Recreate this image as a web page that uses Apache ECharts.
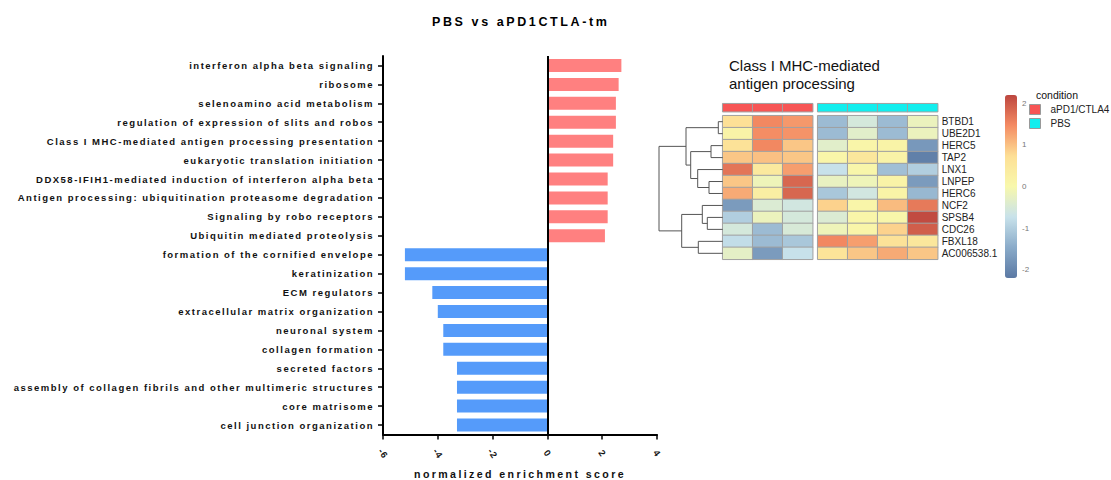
<!DOCTYPE html>
<html><head><meta charset="utf-8">
<script src="https://cdn.jsdelivr.net/npm/echarts@6/dist/echarts.min.js"></script>
<style>
html,body{margin:0;padding:0;background:#fff}
#chart{width:1111px;height:480px}
#chart text[style*="9.5px"]{letter-spacing:1.5px}
#chart text[style*="12.5px"]{letter-spacing:2.6px}
#chart text[style*="10.6px"]{letter-spacing:2.4px}
#chart text[style*="9.2px"]{letter-spacing:0.8px}
</style></head>
<body><div id="chart"></div>
<script>
// ---------- bar chart data ----------
const pathways = [
  'interferon alpha beta signaling',
  'ribosome',
  'selenoamino acid metabolism',
  'regulation of expression of slits and robos',
  'Class I MHC-mediated antigen processing presentation',
  'eukaryotic translation initiation',
  'DDX58-IFIH1-mediated induction of interferon alpha beta',
  'Antigen processing: ubiquitination proteasome degradation',
  'Signaling by robo receptors',
  'Ubiquitin mediated proteolysis',
  'formation of the cornified envelope',
  'keratinization',
  'ECM regulators',
  'extracellular matrix organization',
  'neuronal system',
  'collagen formation',
  'secreted factors',
  'assembly of collagen fibrils and other multimeric structures',
  'core matrisome',
  'cell junction organization'
];
const nes = [2.7, 2.6, 2.5, 2.5, 2.4, 2.4, 2.2, 2.2, 2.2, 2.1,
             -5.2, -5.2, -4.2, -4.0, -3.8, -3.8, -3.3, -3.3, -3.3, -3.3];

// ---------- heatmap data ----------
const genes = ['BTBD1','UBE2D1','HERC5','TAP2','LNX1','LNPEP','HERC6','NCF2','SPSB4','CDC26','FBXL18','AC006538.1'];
const treatedSamples = ['aPD1/CTLA4_1','aPD1/CTLA4_2','aPD1/CTLA4_3'];
const pbsSamples = ['PBS_1','PBS_2','PBS_3','PBS_4'];
const treatedValues = [
  [0.7, 1.5, 1.35],
  [0.15, 1.45, 1.4],
  [0.65, 1.5, 0.95],
  [0.95, 1.0, 0.95],
  [1.7, 0.45, 1.3],
  [0.95, -0.15, 1.85],
  [1.2, 0.3, 1.85],
  [-1.7, -0.45, -0.6],
  [-1.0, -0.2, -0.55],
  [-0.55, -1.25, -0.5],
  [-0.8, -1.25, -1.1],
  [-0.3, -1.7, -0.75]
];
const pbsValues = [
  [-1.25, -0.55, -1.25, -0.2],
  [-1.25, -0.35, -1.25, -0.2],
  [-0.35, 0.1, 0.15, -1.75],
  [0.1, 0.5, 0.15, -2.1],
  [-0.75, 0.05, -1.2, -1.0],
  [-0.25, -0.15, 0.15, -1.7],
  [-1.1, -0.6, 0.15, -1.3],
  [0.85, 0.1, 1.05, 1.65],
  [-0.45, 0.1, 0.05, 2.15],
  [-0.15, 0.1, 0.85, 1.95],
  [1.5, 1.3, 0.65, 0.5],
  [0.6, 0.95, 1.2, 0.95]
];
// row dendrogram: [left, right, height]; merges referenced as 'm<index>'
const dendroMerges = [
  ['BTBD1','UBE2D1',4.4],
  ['HERC5','TAP2',11.7],
  ['LNPEP','HERC6',13.7],
  ['LNX1','m2',25.0],
  ['m1','m3',32.0],
  ['m0','m4',36.7],
  ['SPSB4','CDC26',15.4],
  ['NCF2','m6',20.4],
  ['FBXL18','AC006538.1',24.4],
  ['m7','m8',41.0],
  ['m5','m9',63.7]
];
const colorbarTicks = [-2, -1, 0, 1, 2];
const conditions = ['aPD1/CTLA4', 'PBS'];

// ---------- styling ----------
const FONT = 'Liberation Sans';
const PINK = '#ff8080', BLUE = '#559bfa';
const COND_COLORS = ['#f75555', '#12eeee'];
const PALETTE = ['#5b79a4','#8aabc9','#c8e2eb','#f8f8ac','#fddf95','#f48b63','#bd463f'];

// build dendrogram segments
const nodes = {};
genes.forEach((g, i) => nodes[g] = {y: i, h: 0});
const dendroLines = [];
dendroMerges.forEach((m, k) => {
  const a = nodes[m[0]], b = nodes[m[1]], h = m[2];
  dendroLines.push({coords: [[a.h, a.y], [h, a.y], [h, b.y], [b.h, b.y]]});
  nodes['m' + k] = {y: (a.y + b.y) / 2, h: h};
});
const maxH = dendroMerges[dendroMerges.length - 1][2];

const hmA = [], hmB = [];
genes.forEach((g, i) => {
  treatedValues[i].forEach((v, j) => hmA.push([j, i, v]));
  pbsValues[i].forEach((v, j) => hmB.push([j, i, v]));
});

const hidden = {show: false};
const hiddenCat = (data, extra) => Object.assign({type: 'category', data: data, axisLine: hidden, axisTick: hidden, axisLabel: hidden, splitLine: hidden}, extra || {});
const hiddenVal = (extra) => Object.assign({type: 'value', axisLine: hidden, axisTick: hidden, axisLabel: hidden, splitLine: hidden}, extra || {});
const G = (o) => Object.assign({outerBoundsMode: 'none', containLabel: false}, o);

const HM_TOP = 115.7, HM_H = 143.6;
const option = {
  backgroundColor: '#fff',
  animation: false,
  title: [
    {text: 'PBS vs aPD1CTLA-tm', left: 432, top: 15, padding: 0,
     textStyle: {fontSize: 12.5, fontWeight: 'bold', fontFamily: FONT, color: '#000'}},
    {text: 'Class I MHC-mediated\nantigen processing', left: 729, top: 57, padding: 0,
     textStyle: {fontSize: 15, fontWeight: 'normal', fontFamily: FONT, color: '#111', lineHeight: 17.5}},
    {text: 'condition', left: 1036, top: 89, padding: 0,
     textStyle: {fontSize: 10.5, fontWeight: 'normal', fontFamily: FONT, color: '#111'}}
  ],
  legend: {
    data: conditions.map((c, i) => ({name: c, itemStyle: {color: COND_COLORS[i]}})),
    orient: 'vertical', left: 1029, top: 104, padding: 0,
    itemWidth: 11, itemHeight: 10, itemGap: 3, icon: 'rect', selectedMode: false,
    itemStyle: {borderColor: '#999', borderWidth: 1},
    textStyle: {fontSize: 10, fontFamily: FONT, color: '#222', padding: [0, 0, 0, 5]}
  },
  grid: [
    G({left: 383, right: 454, top: 56, bottom: 45.5}),                 // 0 bars
    G({left: 722.7, width: 90, top: 103.7, height: 8}),               // 1 annot A
    G({left: 817.7, width: 120, top: 103.7, height: 8}),              // 2 annot B
    G({left: 722.7, width: 90, top: HM_TOP, height: HM_H}),           // 3 heat A
    G({left: 817.7, width: 120, top: HM_TOP, height: HM_H}),          // 4 heat B
    G({left: 722.7 - maxH, width: maxH, top: HM_TOP, height: HM_H}),  // 5 dendro
    G({left: 1005, width: 12, top: 95, height: 183})                   // 6 colorbar labels
  ],
  xAxis: [
    {gridIndex: 0, type: 'value', min: -6, max: 4, interval: 2,
     name: 'normalized enrichment score', nameLocation: 'middle', nameGap: 34,
     nameTextStyle: {fontSize: 10.6, fontWeight: 'bold', fontFamily: FONT, color: '#111'},
     axisLine: {show: true, onZero: false, lineStyle: {color: '#000', width: 2}},
     axisTick: {show: true, length: 5, lineStyle: {color: '#000', width: 1.5}},
     splitLine: hidden,
     axisLabel: {rotate: -55, align: 'center', verticalAlign: 'middle', margin: 19,
                 fontSize: 9.2, fontWeight: 'bold', fontFamily: FONT, color: '#111'}},
    hiddenCat(treatedSamples, {gridIndex: 1}),
    hiddenCat(pbsSamples, {gridIndex: 2}),
    hiddenCat(treatedSamples, {gridIndex: 3}),
    hiddenCat(pbsSamples, {gridIndex: 4}),
    hiddenVal({gridIndex: 5, min: 0, max: maxH, inverse: true}),
    hiddenVal({gridIndex: 6, min: 0, max: 1})
  ],
  yAxis: [
    {gridIndex: 0, type: 'category', data: pathways, inverse: true,
     axisLine: {show: true, onZero: false, lineStyle: {color: '#000', width: 2}},
     axisTick: {show: true, alignWithLabel: true, length: 5, lineStyle: {color: '#000', width: 1.5}},
     axisLabel: {interval: 0, fontSize: 9.5, fontWeight: 'bold', fontFamily: FONT, color: '#111', margin: 9},
     splitLine: hidden},
    hiddenCat(['condition'], {gridIndex: 1}),
    hiddenCat(['condition'], {gridIndex: 2}),
    hiddenCat(genes, {gridIndex: 3, inverse: true}),
    {gridIndex: 4, type: 'category', data: genes, inverse: true, position: 'right',
     axisLine: hidden, axisTick: hidden, splitLine: hidden,
     axisLabel: {interval: 0, fontSize: 10, fontFamily: FONT, color: '#222', margin: 4}},
    hiddenVal({gridIndex: 5, min: -0.5, max: genes.length - 0.5, inverse: true}),
    {gridIndex: 6, type: 'value', min: -2.2, max: 2.2, position: 'right',
     axisLine: hidden, axisTick: hidden, splitLine: hidden,
     axisLabel: {customValues: colorbarTicks, fontSize: 8, fontFamily: FONT, color: '#777', margin: 5}}
  ],
  visualMap: [
    {type: 'continuous', seriesIndex: [3, 4], min: -2.2, max: 2.2, calculable: false,
     orient: 'vertical', left: 1005, top: 95, itemWidth: 12, itemHeight: 183, padding: 0,
     text: null, inRange: {color: PALETTE}, hoverLink: false},
    {type: 'piecewise', show: false, seriesIndex: [1, 2],
     pieces: [{value: 0, color: COND_COLORS[0]}, {value: 1, color: COND_COLORS[1]}]}
  ],
  series: [
    {type: 'bar', xAxisIndex: 0, yAxisIndex: 0, data: nes, barWidth: 13,
     itemStyle: {color: (p) => p.value >= 0 ? PINK : BLUE},
     emphasis: {disabled: true},
     markLine: {silent: true, symbol: 'none', label: {show: false},
                lineStyle: {color: '#000', width: 2, type: 'solid'}, data: [{xAxis: 0}]}},
    {type: 'heatmap', name: conditions[0], xAxisIndex: 1, yAxisIndex: 1,
     data: treatedSamples.map((s, j) => [j, 0, 0]),
     itemStyle: {color: COND_COLORS[0], borderColor: '#a0a0a0', borderWidth: 1}, emphasis: {disabled: true}},
    {type: 'heatmap', name: conditions[1], xAxisIndex: 2, yAxisIndex: 2,
     data: pbsSamples.map((s, j) => [j, 0, 1]),
     itemStyle: {color: COND_COLORS[1], borderColor: '#a0a0a0', borderWidth: 1}, emphasis: {disabled: true}},
    {type: 'heatmap', name: 'aPD1/CTLA4 expr', xAxisIndex: 3, yAxisIndex: 3, data: hmA,
     itemStyle: {borderColor: '#a0a0a0', borderWidth: 1}, emphasis: {disabled: true}},
    {type: 'heatmap', name: 'PBS expr', xAxisIndex: 4, yAxisIndex: 4, data: hmB,
     itemStyle: {borderColor: '#a0a0a0', borderWidth: 1}, emphasis: {disabled: true}},
    {type: 'lines', coordinateSystem: 'cartesian2d', xAxisIndex: 5, yAxisIndex: 5,
     polyline: true, silent: true, data: dendroLines,
     lineStyle: {color: '#555', width: 1, opacity: 1}}
  ]
};
const chart = echarts.init(document.getElementById('chart'), null, {renderer: 'svg'});
chart.setOption(option);
</script></body></html>
